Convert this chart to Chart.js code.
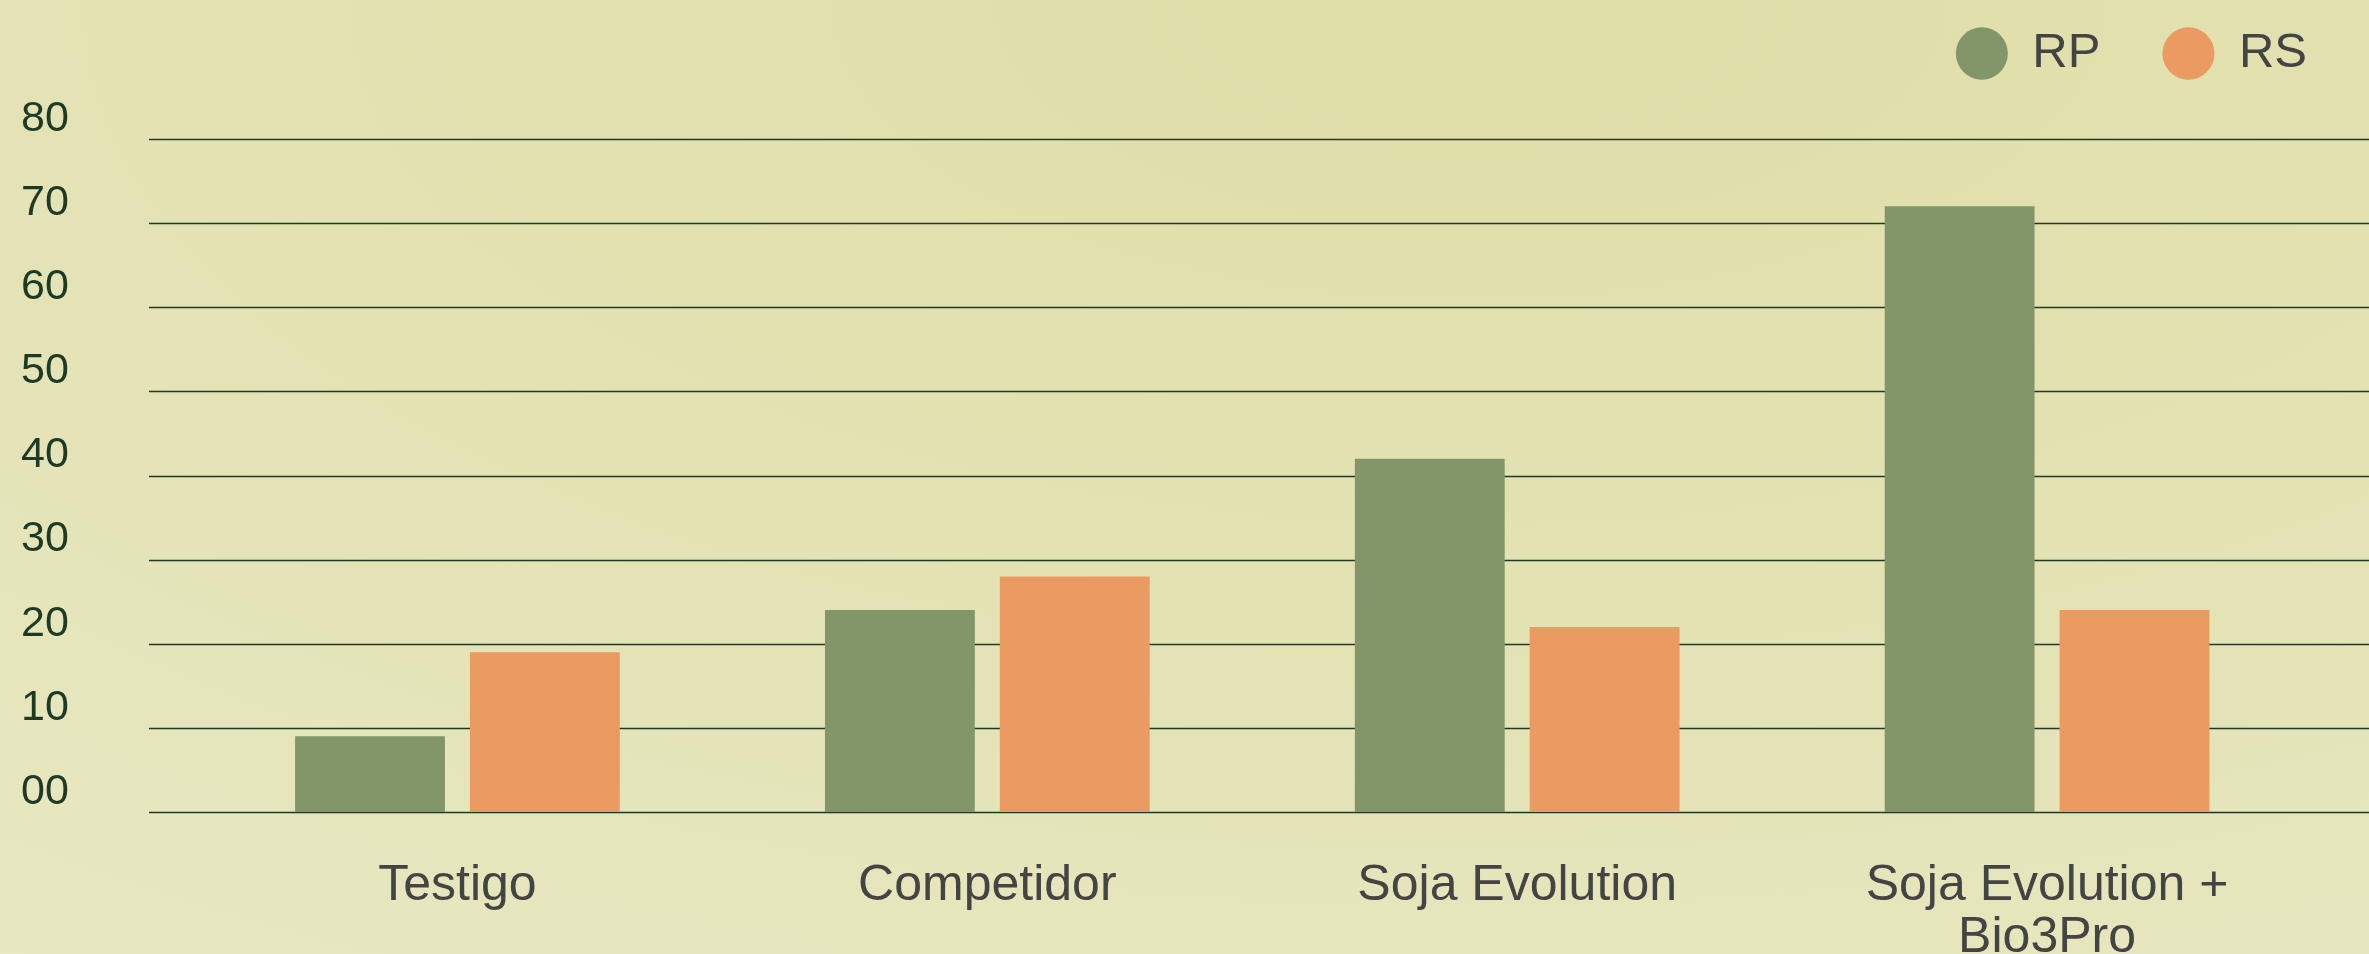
<!DOCTYPE html>
<html>
<head>
<meta charset="utf-8">
<script src="https://cdn.jsdelivr.net/npm/chart.js@4.4.0/dist/chart.umd.min.js"></script>
<style>
  html, body { margin: 0; padding: 0; }
  body {
    width: 2369px; height: 954px; overflow: hidden;
    background: radial-gradient(ellipse 120% 140% at 62% 0%, #dfdea8 0%, #e3e2b3 45%, #e9e9c6 100%);
  }
  canvas { display: block; }
</style>
</head>
<body>
<canvas id="chart" width="2369" height="954"></canvas>
<script>
const categories = ["Testigo", "Competidor", "Soja Evolution", ["Soja Evolution +", "Bio3Pro"]];
const seriesNames = ["RP", "RS"];
const rpValues = [9, 24, 42, 72];
const rsValues = [19, 28, 22, 24];
const yTicks = [0, 10, 20, 30, 40, 50, 60, 70, 80];

const green = "#839669";
const orange = "#eb9a62";
const gridColor = "#1f3a24";

// horizontal lines run past the plot area on both sides, like the original
const longGrid = {
  id: "longGrid",
  beforeDatasetsDraw(chart) {
    const y = chart.scales.y;
    const ctx = chart.ctx;
    ctx.save();
    ctx.strokeStyle = gridColor;
    ctx.lineWidth = 1.6;
    y.ticks.forEach(t => {
      const py = Math.round(y.getPixelForValue(t.value)) + 0.5;
      ctx.beginPath();
      ctx.moveTo(149, py);
      ctx.lineTo(chart.width, py);
      ctx.stroke();
    });
    ctx.restore();
  }
};

// extra room between legend and plot
const legendGap = {
  id: "legendGap",
  beforeInit(chart) {
    const fit = chart.legend.fit;
    chart.legend.fit = function() {
      fit.bind(chart.legend)();
      this.height += 51;
    };
  }
};

new Chart(document.getElementById("chart"), {
  type: "bar",
  data: {
    labels: categories,
    datasets: [
      { label: seriesNames[0], data: rpValues, backgroundColor: green },
      { label: seriesNames[1], data: rsValues, backgroundColor: orange }
    ]
  },
  options: {
    responsive: false,
    animation: false,
    categoryPercentage: 0.66,
    barPercentage: 0.857,
    layout: { padding: { top: -33, left: 21, right: 0, bottom: 0 } },
    plugins: {
      legend: {
        position: "top",
        align: "end",
        labels: {
          usePointStyle: true,
          pointStyle: "circle",
          boxHeight: 37,
          pointStyleWidth: 52,
          padding: 62,
          color: "#444444",
          font: { family: "Liberation Sans", size: 49 }
        }
      },
      tooltip: { enabled: false }
    },
    scales: {
      x: {
        grid: { display: false },
        border: { display: false },
        ticks: {
          padding: 40,
          color: "#444444",
          font: { family: "Liberation Sans", size: 50, lineHeight: 1.04 }
        },
        afterFit: s => { s.height = 142; }
      },
      y: {
        min: 0,
        max: 80,
        afterBuildTicks: s => { s.ticks = yTicks.map(v => ({ value: v })); },
        grid: { display: false },
        border: { display: false },
        ticks: {
          crossAlign: "far",
          labelOffset: -20,
          color: "#1e3a24",
          font: { family: "Liberation Sans", size: 43 },
          callback: v => String(v).padStart(2, "0")
        },
        afterFit: s => { s.width = 171.5; }
      },
      y2: {
        position: "right",
        grid: { display: false },
        border: { display: false },
        ticks: { display: false },
        afterFit: s => { s.width = 57; }
      }
    }
  },
  plugins: [longGrid, legendGap]
});
</script>
</body>
</html>
